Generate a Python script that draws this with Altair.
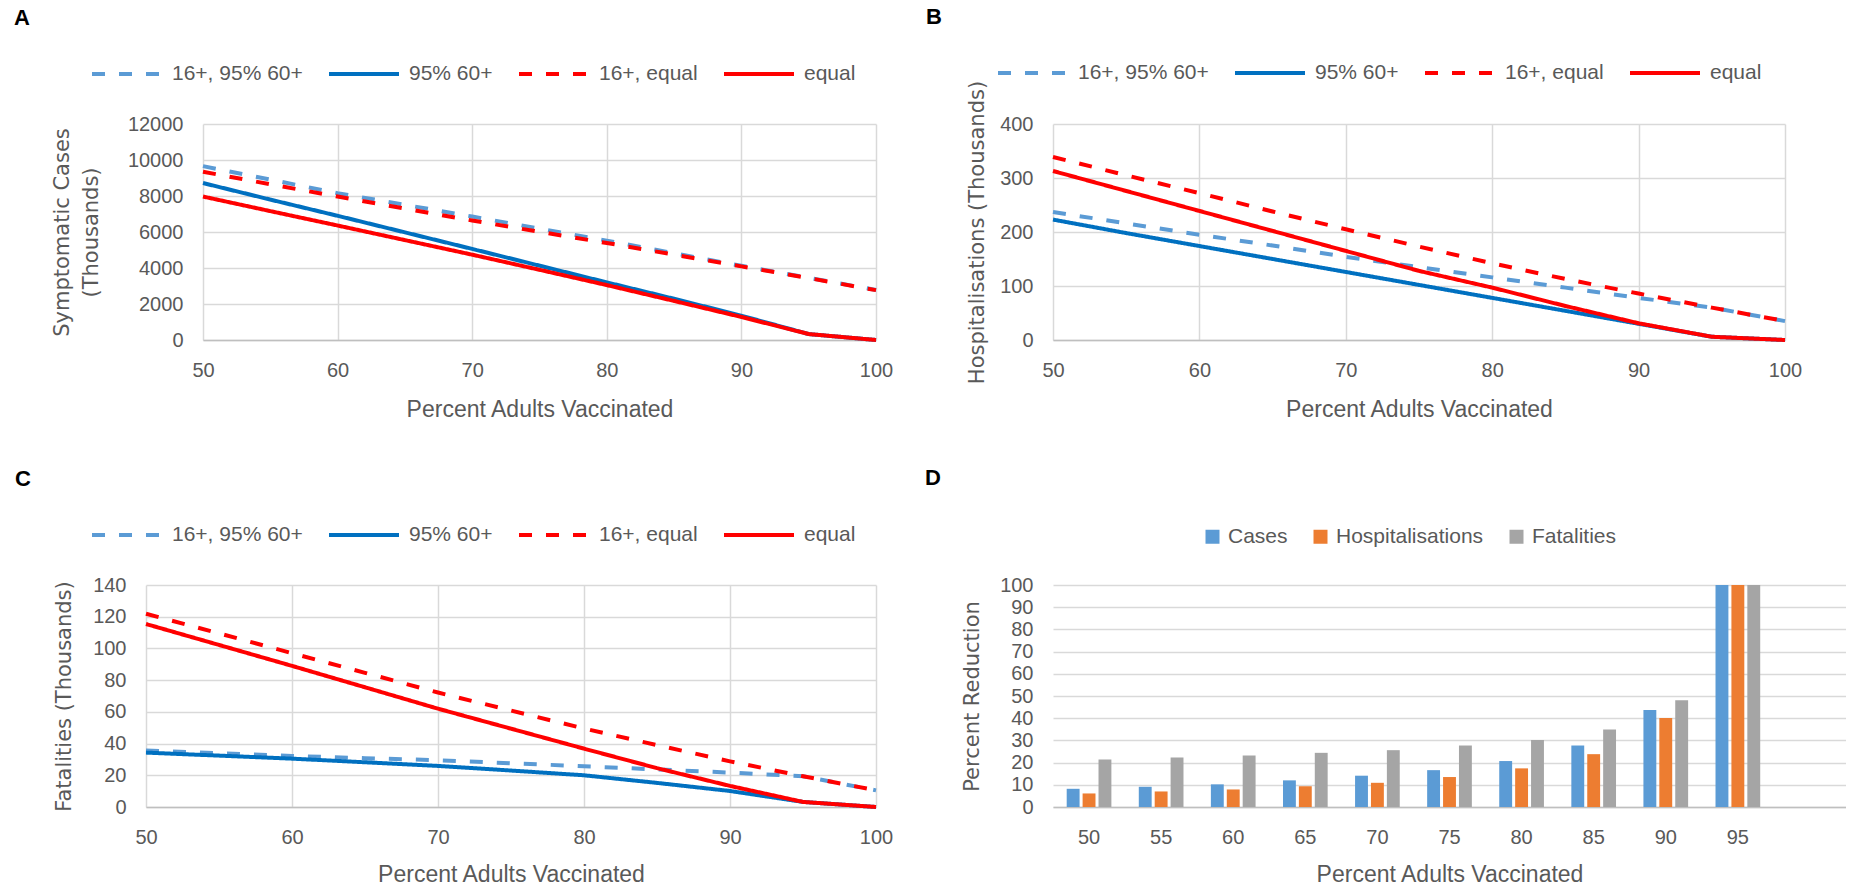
import altair as alt
import pandas as pd

# ---------------- data ----------------
pct = [50, 55, 60, 65, 70, 75, 80, 85, 90, 95, 100]
series_names = ["16+, 95% 60+", "95% 60+", "16+, equal", "equal"]
line_colors = ["#5B9BD5", "#0070C0", "#FF0000", "#FF0000"]
line_dashes = [[13, 14], [1, 0], [13, 14], [1, 0]]

# Panel A: symptomatic cases (thousands)
a_16_95 = [9660, 8910, 8160, 7510, 6860, 6190, 5520, 4820, 4120, 3450, 2780]
a_95 = [8720, 7800, 6900, 5980, 5060, 4130, 3200, 2290, 1350, 330, 0]
a_16_eq = [9350, 8650, 7970, 7300, 6640, 6010, 5390, 4740, 4090, 3440, 2770]
a_eq = [7970, 7160, 6360, 5550, 4740, 3900, 3050, 2170, 1280, 330, 0]

# Panel B: hospitalisations (thousands)
b_16_95 = [237, 216, 195, 175, 154, 135, 116, 97, 78, 60, 35]
b_95 = [223, 198, 174, 150, 126, 102, 78, 54, 30, 6, 0]
b_16_eq = [339, 305, 272, 238, 205, 173, 142, 113, 86, 60, 35]
b_eq = [313, 276, 239, 202, 165, 128, 97, 63, 31, 6, 0]

# Panel C: fatalities (thousands)
c_16_95 = [35.6, 33.9, 32.2, 30.8, 29.5, 27.6, 25.7, 23.7, 21.7, 19.4, 10.5]
c_95 = [34.3, 32.4, 30.5, 28.2, 25.9, 23.0, 20.0, 15.2, 10.1, 3.2, 0]
c_16_eq = [121.9, 109.5, 97.0, 84.6, 72.2, 60.8, 49.5, 39.0, 28.8, 19.4, 10.5]
c_eq = [115.4, 102.2, 89.0, 75.5, 62.0, 49.4, 36.8, 24.5, 13.3, 3.2, 0]

# Panel D: percent reduction
d_cats = ["50", "55", "60", "65", "70", "75", "80", "85", "90", "95"]
d_slots = d_cats + ["100"]
measures = ["Cases", "Hospitalisations", "Fatalities"]
bar_colors = ["#5B9BD5", "#ED7D31", "#A5A5A5"]
d_cases = [8.2, 9.1, 10.2, 12.0, 14.1, 16.6, 20.7, 27.7, 43.7, 100]
d_hosp = [6.1, 7.0, 7.9, 9.4, 10.9, 13.5, 17.4, 23.8, 40.1, 100]
d_fat = [21.4, 22.3, 23.2, 24.4, 25.6, 27.7, 30.2, 34.9, 48.1, 100]

LBL_FONT = "Liberation Sans"
YT_FONT = "DejaVu Sans"
GREY = "#595959"


def letter_layer(letter, lx, ly):
    return alt.Chart(pd.DataFrame({"t": [letter]})).mark_text(
        align="left", baseline="middle", fontSize=22, fontWeight="bold",
        font=LBL_FONT, color="black"
    ).encode(text="t:N", x=alt.value(lx), y=alt.value(ly))


def line_panel(vals, ymax, ystep, ytitle, w, h, letter, lxy, legxy,
               xshift=0, xtitle_pad=18, ytitle_pad=12):
    rows = []
    for name, v in zip(series_names, vals):
        for x, y in zip(pct, v):
            rows.append({"pct": x, "value": y, "series": name})
    df = pd.DataFrame(rows)
    leg = alt.Legend(
        orient="none", legendX=legxy[0], legendY=legxy[1], direction="horizontal",
        symbolType="stroke", symbolSize=4900, symbolStrokeWidth=4,
        labelFont=LBL_FONT, labelFontSize=21, labelColor=GREY, labelOffset=8,
        columnPadding=18, padding=0, labelLimit=400,
    )
    xscale = alt.Scale(domain=[50, 100], nice=False)
    yaxis = alt.Axis(values=list(range(0, ymax + 1, ystep)), title=ytitle, format="d",
                     titlePadding=ytitle_pad, titleLineHeight=29)
    if xshift:
        # plot area of this panel begins xshift px left of the shared column origin
        xscale = alt.Scale(domain=[50, 100], nice=False, range=[-xshift, w])
        yaxis = alt.Axis(values=list(range(0, ymax + 1, ystep)), title=ytitle, format="d",
                         offset=xshift, titlePadding=ytitle_pad)
    lines = alt.Chart(df).mark_line(strokeWidth=4, strokeCap="butt").encode(
        x=alt.X("pct:Q", scale=xscale,
                axis=alt.Axis(values=[50, 60, 70, 80, 90, 100], title="Percent Adults Vaccinated",
                              labelFlush=False, format="d", titlePadding=xtitle_pad)),
        y=alt.Y("value:Q", scale=alt.Scale(domain=[0, ymax], nice=False), axis=yaxis),
        color=alt.Color("series:N", title=None,
                        scale=alt.Scale(domain=series_names, range=line_colors), legend=leg),
        strokeDash=alt.StrokeDash("series:N", title=None,
                                  scale=alt.Scale(domain=series_names, range=line_dashes), legend=leg),
    )
    return alt.layer(lines, letter_layer(letter, lxy[0], lxy[1])).properties(width=w, height=h)


pA = line_panel([a_16_95, a_95, a_16_eq, a_eq], 12000, 2000,
                ["Symptomatic Cases", "(Thousands)"], 673, 216, "A", (-189, -106), (-113, -87),
                ytitle_pad=26)
pB = line_panel([b_16_95, b_95, b_16_eq, b_eq], 400, 100,
                "Hospitalisations (Thousands)", 732, 216, "B", (-127, -107), (-57, -88))
pC = line_panel([c_16_95, c_95, c_16_eq, c_eq], 140, 20,
                "Fatalities (Thousands)", 673, 222, "C", (-188, -106), (-113, -87),
                xshift=57, xtitle_pad=16, ytitle_pad=18)

rows_d = []
for m, v in zip(measures, [d_cases, d_hosp, d_fat]):
    for c, y in zip(d_cats, v):
        rows_d.append({"cat": c, "measure": m, "value": y})
df_d = pd.DataFrame(rows_d)

bars = alt.Chart(df_d).mark_bar().encode(
    x=alt.X("cat:N", scale=alt.Scale(domain=d_slots, paddingInner=0.38, paddingOuter=0.19),
            axis=alt.Axis(title="Percent Adults Vaccinated", labelAngle=0, grid=False,
                          titlePadding=16,
                          labelExpr="datum.value == '100' ? '' : datum.label")),
    xOffset=alt.XOffset("measure:N", scale=alt.Scale(domain=measures, paddingInner=0.19)),
    y=alt.Y("value:Q", scale=alt.Scale(domain=[0, 100], nice=False),
            axis=alt.Axis(values=list(range(0, 101, 10)), title="Percent Reduction", format="d",
                          titlePadding=17)),
    color=alt.Color("measure:N", title=None,
                    scale=alt.Scale(domain=measures, range=bar_colors),
                    legend=alt.Legend(orient="none", legendX=149, legendY=-59, direction="horizontal",
                                      symbolType="square", symbolSize=196, symbolStrokeWidth=0,
                                      labelFont=LBL_FONT, labelFontSize=21, labelColor=GREY,
                                      labelOffset=5, columnPadding=22, padding=0, labelLimit=400)),
)
pD = alt.layer(bars, letter_layer("D", -128, -107)).properties(width=793, height=222)

chart = alt.concat(pA, pB, pC, pD, columns=2, align="none", bounds="flush",
                   spacing={"row": 245, "column": 177}).resolve_scale(
    color="independent", strokeDash="independent", x="independent", y="independent"
).resolve_legend(color="independent", strokeDash="independent").properties(
    padding={"left": 14, "top": 6, "right": 0, "bottom": 0}
).configure_view(stroke=None).configure_axis(
    labelFont=LBL_FONT, labelFontSize=20, labelColor=GREY, titleColor=GREY,
    titleFontWeight="normal", ticks=False, gridColor="#D9D9D9", gridWidth=1.5,
).configure_axisX(
    titleFont=LBL_FONT, titleFontSize=23, labelPadding=20,
    domainColor="#BFBFBF", domainWidth=1.5, grid=True,
).configure_axisY(
    titleFont=YT_FONT, titleFontSize=21, labelPadding=20, domain=False,
)

chart.save("out.html", embed_options={"renderer": "svg", "actions": False})
